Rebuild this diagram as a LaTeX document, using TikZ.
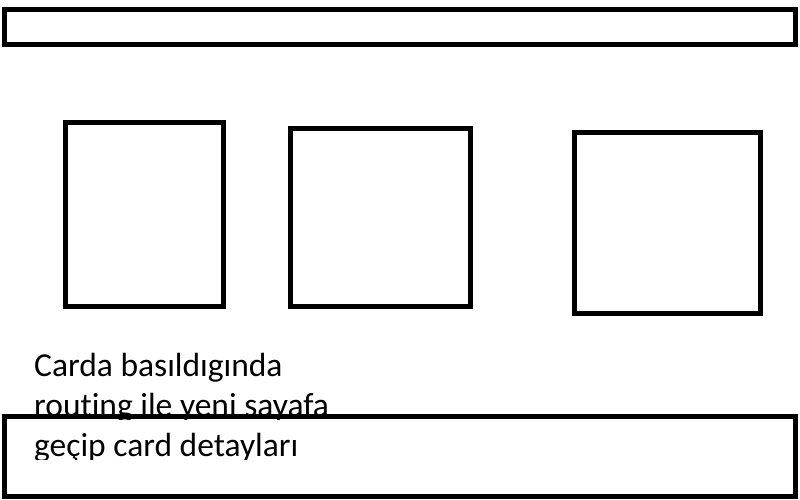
\documentclass[tikz,border=0pt]{standalone}
\usepackage{fontspec}
\setmainfont{Carlito}[Ligatures=NoCommon]
\begin{document}
\begin{tikzpicture}[x=1pt,y=-1pt,
  frame/.style={draw=black,line width=5pt,fill=none},
  label/.style={inner sep=0pt,anchor=base west,font=\fontsize{33.5}{40}\selectfont}]
\useasboundingbox (0,0) rectangle (800,500);
% text (clipped as in the reference)
\begin{scope}
\clip (0,0) rectangle (800,419) (0,425) rectangle (800,459);
\node[label] (t1) at (34,376) {Carda basıldıgında};
\node[label] (t2) at (34,416) {routing ile yeni sayafa};
\node[label] (t3) at (34,456) {geçip card detayları};
\end{scope}
% frames
\draw[frame] (4.5,9.5) rectangle (795.5,44.5);
\draw[frame] (65,122.5) rectangle (223.5,306.5);
\draw[frame] (290.5,128.5) rectangle (470.5,306.5);
\draw[frame] (574.5,132.5) rectangle (760.5,313.5);
\draw[frame] (4.2,416.5) rectangle (795.2,496.5);
\end{tikzpicture}
\end{document}
